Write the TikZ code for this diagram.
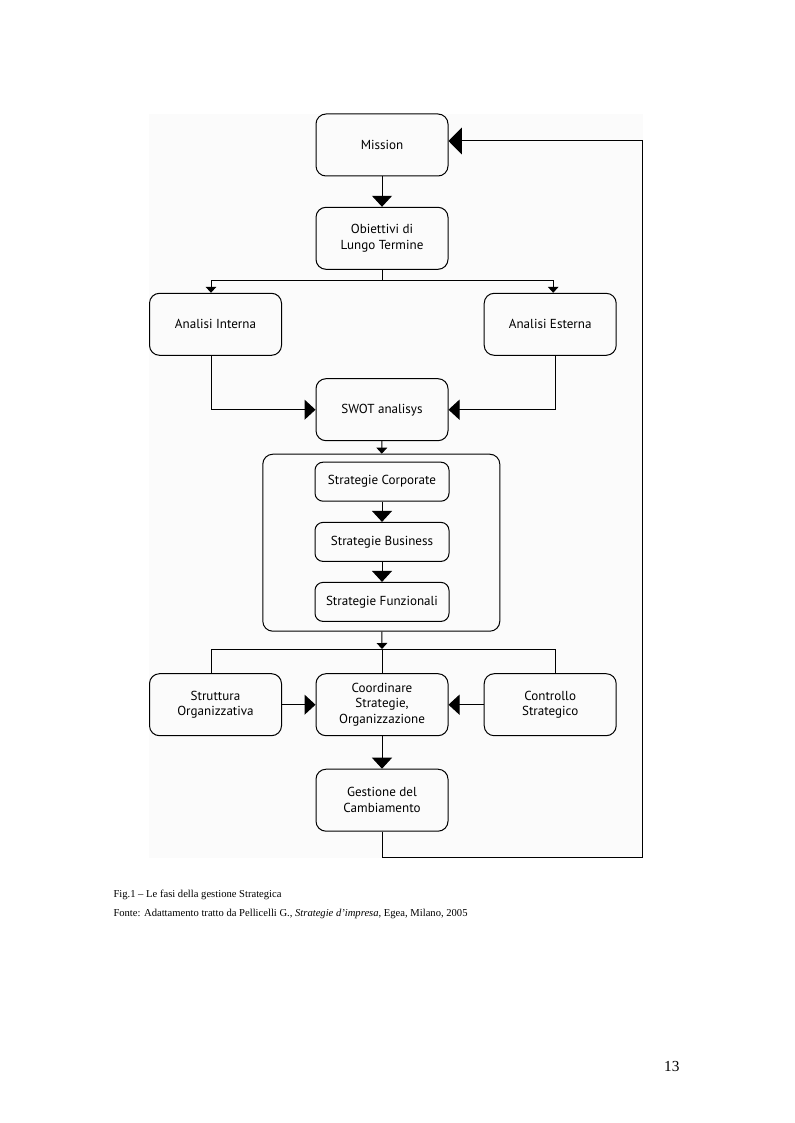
\documentclass[tikz,border=0pt]{standalone}
\usepackage{fontspec}
\setmainfont{Liberation Serif}
\newfontfamily\boxfont{PT Sans}
\usetikzlibrary{arrows.meta,calc}
\begin{document}
\begin{tikzpicture}[x=0.75pt,y=-0.75pt,
  line width=0.75pt,
  flowbox/.style={draw=black,rounded corners=7.5pt,minimum width=132*0.75pt,minimum height=62*0.75pt,inner sep=1pt,align=center,font=\boxfont\fontsize{9.8}{11.8}\selectfont},
  stratbox/.style={flowbox,minimum width=134*0.75pt,minimum height=39*0.75pt,rounded corners=6pt},
  bigarrow/.style={-{Triangle[length=8.25pt,width=15pt]}},
  hugearrow/.style={-{Triangle[length=10pt,width=20pt]}},
  smallarrow/.style={-{Triangle[length=4.5pt,width=8pt]}}
]
\useasboundingbox (0,0) rectangle (794,1123);
\fill[black!1.5] (149,114) rectangle (643,858);

\node[flowbox] (mission) at (382,145) {Mission};
\node[flowbox] (obj) at (382,238.3) {Obiettivi di\\Lungo Termine};
\node[flowbox] (ai) at (215.5,324.3) {Analisi Interna};
\node[flowbox] (ae) at (550.2,324.3) {Analisi Esterna};
\node[flowbox] (swot) at (382,409.7) {SWOT analisys};
\node[draw=black,rounded corners=7.5pt,minimum width=237*0.75pt,minimum height=177*0.75pt,inner sep=0pt] (big) at (381.3,542.7) {};
\node[stratbox] (sc) at (382,481.7) {Strategie Corporate};
\node[stratbox] (sb) at (382,541.9) {Strategie Business};
\node[stratbox] (sf) at (382,601.9) {Strategie Funzionali};
\node[flowbox] (so) at (215.5,704.7) {Struttura\\Organizzativa};
\node[flowbox] (co) at (382,704.7) {Coordinare\\Strategie,\\Organizzazione};
\node[flowbox] (cs) at (550.2,704.7) {Controllo\\Strategico};
\node[flowbox] (ge) at (382,800.2) {Gestione del\\Cambiamento};

% connectors
\draw[bigarrow] (mission) -- (obj);
\coordinate (j1) at (382,280);
\draw (obj) -- (j1);
\draw[smallarrow] (j1) -| ($(ai.north)+(-4.5,0)$);
\draw[smallarrow] (j1) -| ($(ae.north)+(3,0)$);
\draw[bigarrow] ($(ai.south)+(-4,0)$) |- (swot.west);
\draw[bigarrow] ($(ae.south)+(5,0)$) |- (swot.east);
\draw[smallarrow] (swot) -- (big);
\draw[bigarrow] (sc) -- (sb);
\draw[bigarrow] (sb) -- (sf);
\coordinate (j2) at (382,649);
\coordinate (j2l) at (211,649);
\coordinate (j2r) at (555.7,649);
\draw[smallarrow] (big) -- (j2);
\draw ($(so.north)+(-4.5,0)$) -- (j2l) -- (j2r) -- ($(cs.north)+(5.5,0)$);
\draw (j2) -- (co.north);
\draw[bigarrow] (so) -- (co);
\draw[bigarrow] (cs) -- (co);
\draw[bigarrow] (co) -- (ge);
\coordinate (c1) at (642.7,857.3);
\coordinate (c2) at (642.7,141);
\draw[hugearrow] (ge.south) |- (c1) -- (c2) -- (mission.east |- c2);

% caption
\node[anchor=base west,inner sep=0pt,font=\fontsize{7.95}{9.5}\selectfont] (cap1) at (113,897) {Fig.1 -- Le fasi della gestione Strategica};
\node[anchor=base west,inner sep=0pt,font=\fontsize{7.95}{9.5}\selectfont] (cap2) at (113,916) {Fonte: Adattamento tratto da Pellicelli G., \textit{Strategie d’impresa}, Egea, Milano, 2005};
\node[anchor=base east,inner sep=0pt,font=\fontsize{11.5}{13}\selectfont] (pg) at (680,1071) {13};
\end{tikzpicture}
\end{document}
